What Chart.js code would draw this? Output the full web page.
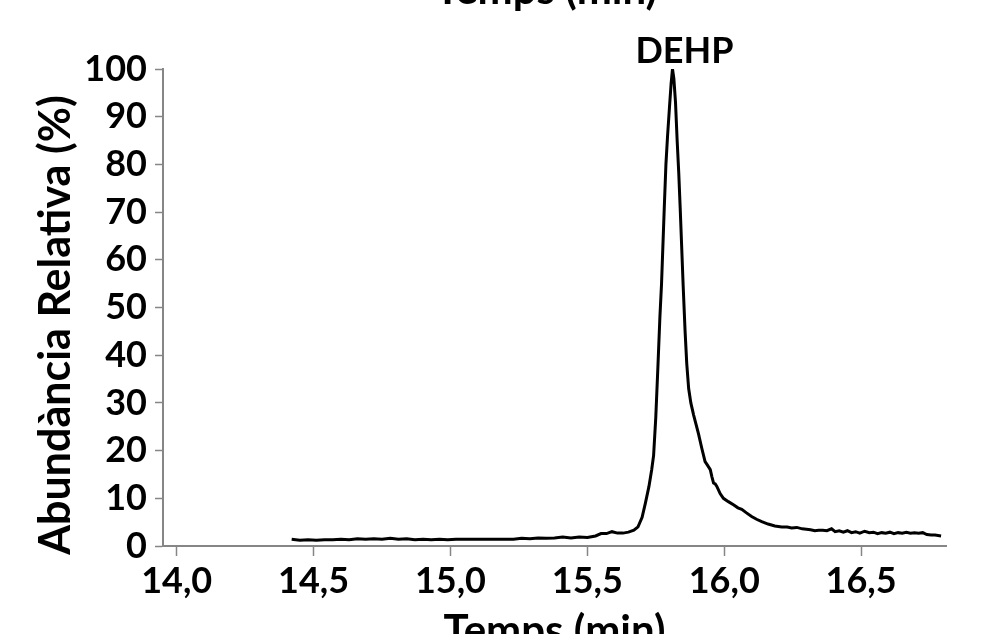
<!DOCTYPE html>
<html>
<head>
<meta charset="utf-8">
<script src="https://cdn.jsdelivr.net/npm/chart.js@4"></script>
<style>
  html, body { margin: 0; padding: 0; background: #fff; overflow: hidden; }
  body { width: 999px; height: 634px; position: relative; }
  #wrap { position: absolute; left: 0; top: -30px; width: 999px; height: 694px; }
</style>
</head>
<body>
<div id="wrap"><canvas id="chrom"></canvas></div>
<script>
// chromatogram data (time in min, relative abundance in %)
const times = [
  14.42, 14.45, 14.48, 14.51, 14.54, 14.57, 14.60, 14.63, 14.66, 14.69,
  14.72, 14.75, 14.78, 14.81, 14.84, 14.87, 14.90, 14.93, 14.96, 14.99,
  15.02, 15.05, 15.08, 15.11, 15.14, 15.17, 15.20, 15.23, 15.26, 15.29,
  15.32, 15.35, 15.38, 15.41, 15.44, 15.47, 15.50, 15.53, 15.55, 15.57,
  15.59, 15.61, 15.63, 15.65, 15.67, 15.685, 15.70, 15.712, 15.725, 15.735,
  15.742, 15.750, 15.758, 15.765, 15.771, 15.781, 15.787, 15.793, 15.800, 15.806,
  15.811, 15.816, 15.822, 15.828, 15.834, 15.839, 15.845, 15.850, 15.857, 15.863,
  15.870, 15.878, 15.888, 15.897, 15.906, 15.918, 15.930, 15.938, 15.949, 15.955,
  15.961, 15.967, 15.973, 15.985, 15.997, 16.015, 16.035, 16.050, 16.064, 16.080,
  16.100, 16.118, 16.137, 16.160, 16.185, 16.210, 16.230, 16.246, 16.265, 16.285,
  16.300, 16.315, 16.331, 16.345, 16.360, 16.375, 16.392, 16.405, 16.420, 16.435,
  16.450, 16.465, 16.480, 16.495, 16.513, 16.530, 16.545, 16.560, 16.575, 16.590,
  16.605, 16.620, 16.635, 16.650, 16.665, 16.680, 16.695, 16.710, 16.725, 16.740,
  16.756, 16.770, 16.792
];
const abundance = [
  1.4, 1.2, 1.3, 1.2, 1.3, 1.3, 1.4, 1.3, 1.5, 1.4,
  1.5, 1.4, 1.6, 1.4, 1.5, 1.3, 1.4, 1.3, 1.4, 1.3,
  1.4, 1.4, 1.4, 1.4, 1.4, 1.4, 1.4, 1.4, 1.6, 1.5,
  1.7, 1.6, 1.7, 1.9, 1.7, 1.9, 1.8, 2.1, 2.6, 2.6,
  3.0, 2.7, 2.7, 2.9, 3.3, 4.0, 6.0, 9.0, 12.5, 16,
  19, 27, 38, 48, 55, 71, 80, 86, 92, 97,
  100, 98, 93, 85, 78, 71, 62, 54.5, 45, 38.3,
  33, 30, 27.5, 25.5, 23.5, 20.5, 17.7, 17, 16, 14.5,
  13.2, 13.0, 12.5, 11, 10, 9.3, 8.6, 8.0, 7.7, 7.0,
  6.2, 5.6, 5.1, 4.6, 4.2, 4.0, 4.0, 3.8, 3.9, 3.6,
  3.5, 3.4, 3.2, 3.3, 3.3, 3.2, 3.6, 3.0, 3.2, 2.9,
  3.2, 2.8, 3.0, 2.7, 3.1, 2.8, 2.9, 2.6, 2.8, 2.7,
  2.9, 2.6, 2.8, 2.7, 2.9, 2.7, 2.8, 2.7, 2.8, 2.4,
  2.3, 2.3, 2.1
];

// axis ticks
const xTicks = [14.0, 14.5, 15.0, 15.5, 16.0, 16.5];
const yTicks = [0, 10, 20, 30, 40, 50, 60, 70, 80, 90, 100];

const peakTime = 15.811;
const peakLabel = "DEHP";

const fontFam = "Lato, 'Open Sans', sans-serif";
const axisGray = "#868686";

// extra texts: clipped top title, y title, peak label
const textPlugin = {
  id: "texts",
  afterDraw(chart) {
    const ctx = chart.ctx;
    const xs = chart.scales.x;
    const ys = chart.scales.y;
    ctx.save();
    ctx.fillStyle = "#000";
    ctx.textAlign = "center";
    ctx.textBaseline = "alphabetic";

    ctx.font = "bold 42px " + fontFam;
    ctx.fillText("Temps (min)", 546, 34);

    ctx.font = "bold 36px " + fontFam;
    ctx.fillText(peakLabel, xs.getPixelForValue(peakTime) + 12, ys.getPixelForValue(100) - 6);

    ctx.translate(70, 355);
    ctx.rotate(-Math.PI / 2);
    ctx.font = "bold 43px " + fontFam;
    ctx.fillText("Abundància Relativa (%)", 0, 0);
    ctx.restore();
  }
};

new Chart(document.getElementById("chrom"), {
  type: "line",
  data: {
    datasets: [
      {
        label: peakLabel,
        data: times.map((t, i) => ({ x: t, y: abundance[i] })),
        borderColor: "#000",
        borderWidth: 3,
        pointRadius: 0,
        tension: 0,
        fill: false,
      },
    ],
  },
  options: {
    responsive: true,
    maintainAspectRatio: false,
    animation: false,
    layout: { padding: { top: 99, left: 0, right: 53, bottom: 0 } },
    plugins: {
      legend: { display: false },
      tooltip: { enabled: false },
    },
    scales: {
      x: {
        type: "linear",
        min: 13.95,
        max: 16.81,
        afterBuildTicks: (scale) => {
          scale.ticks = xTicks.map((v) => ({ value: v }));
        },
        afterFit: (scale) => {
          scale.height = 118;
        },
        border: { display: true, color: axisGray, width: 2 },
        grid: { drawOnChartArea: false, drawTicks: true, tickLength: 10, color: axisGray, tickWidth: 1.5 },
        ticks: {
          color: "#000",
          padding: 4,
          font: { family: fontFam, size: 36, weight: "bold" },
          callback: (v) => v.toFixed(1).replace(".", ","),
        },
        title: {
          display: true,
          text: "Temps (min)",
          color: "#000",
          font: { family: fontFam, size: 42, weight: "bold" },
          padding: { top: 0, bottom: 7 },
        },
      },
      y: {
        min: 0,
        max: 100,
        afterBuildTicks: (scale) => {
          scale.ticks = yTicks.map((v) => ({ value: v }));
        },
        afterFit: (scale) => {
          scale.width = 163;
        },
        border: { display: true, color: axisGray, width: 2 },
        grid: { drawOnChartArea: false, drawTicks: true, tickLength: 8, color: axisGray, tickWidth: 1.5 },
        ticks: {
          color: "#000",
          padding: 8,
          font: { family: fontFam, size: 36, weight: "bold" },
        },
      },
    },
  },
  plugins: [textPlugin],
});
</script>
</body>
</html>
